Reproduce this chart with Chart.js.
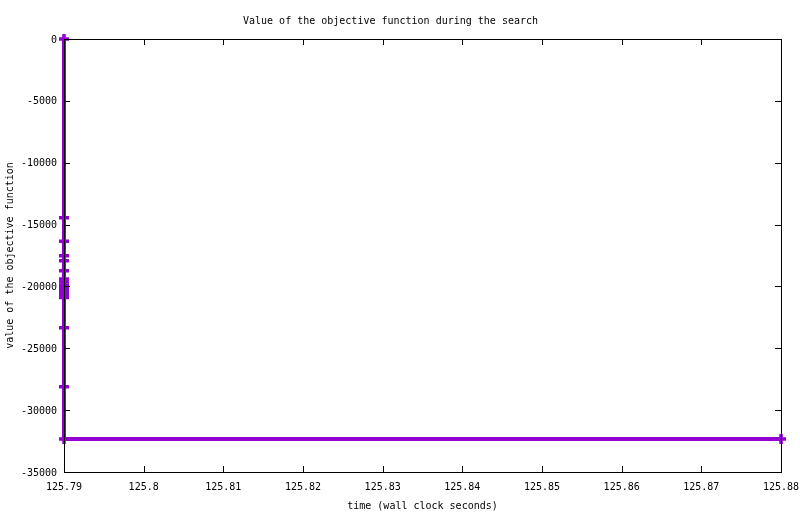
<!DOCTYPE html>
<html>
<head>
<meta charset="utf-8">
<script src="https://cdn.jsdelivr.net/npm/chart.js@4/dist/chart.umd.min.js"></script>
<style>
  html, body { margin: 0; padding: 0; background: #fff; }
  #wrap { width: 800px; height: 514px; }
</style>
</head>
<body>
<div id="wrap"><canvas id="chart"></canvas></div>
<script>
// values
const timeValues = [125.79, 125.79, 125.79, 125.79, 125.79, 125.79, 125.79, 125.79, 125.79,
                    125.79, 125.79, 125.79, 125.79, 125.79, 125.79, 125.79, 125.88];
const objectiveValues = [0, -14450, -16350, -17520, -17920, -18730, -19400, -19650, -19900,
                         -20150, -20400, -20650, -20900, -23340, -28110, -32330, -32330];

const xTicks = [125.79, 125.8, 125.81, 125.82, 125.83, 125.84, 125.85, 125.86, 125.87, 125.88];
const yTicks = [0, -5000, -10000, -15000, -20000, -25000, -30000, -35000];

const font = { family: "'DejaVu Sans Mono', monospace", size: 10, weight: 'normal' };
const points = timeValues.map((t, i) => ({ x: t, y: objectiveValues[i] }));

// gnuplot style frame: ticks pointing inward on all four sides
const frame = {
    id: 'frame',
    afterDraw(chart) {
        const ctx = chart.ctx;
        const a = chart.chartArea;
        const x = chart.scales.x, y = chart.scales.y;
        ctx.save();
        ctx.strokeStyle = '#000';
        ctx.lineWidth = 1;
        ctx.beginPath();
        xTicks.forEach(v => {
            const px = Math.round(x.getPixelForValue(v)) + 0.5;
            ctx.moveTo(px, a.bottom); ctx.lineTo(px, a.bottom - 6);
            ctx.moveTo(px, a.top); ctx.lineTo(px, a.top + 6);
        });
        yTicks.forEach(v => {
            const py = Math.round(y.getPixelForValue(v)) + 0.5;
            ctx.moveTo(a.left, py); ctx.lineTo(a.left + 6, py);
            ctx.moveTo(a.right, py); ctx.lineTo(a.right - 6, py);
        });
        ctx.stroke();
        ctx.strokeRect(Math.round(a.left) + 0.5, Math.round(a.top) + 0.5,
                       Math.round(a.right - a.left), Math.round(a.bottom - a.top));
        ctx.restore();
    }
};

new Chart(document.getElementById('chart'), {
    type: 'scatter',
    data: {
        datasets: [{
            data: points,
            showLine: true,
            borderColor: '#9400d3',
            backgroundColor: '#9400d3',
            borderWidth: 4,
            pointStyle: 'cross',
            pointRadius: 5,
            pointBorderWidth: 3.5,
            pointHoverRadius: 5,
            clip: false
        }]
    },
    options: {
        responsive: true,
        maintainAspectRatio: false,
        animation: false,
        layout: { padding: { left: 0, right: 19, top: 0, bottom: 0 } },
        plugins: {
            legend: { display: false },
            tooltip: { enabled: false },
            title: {
                display: true,
                text: 'Value of the objective function during the search',
                color: '#000',
                font: font,
                padding: { top: 15, bottom: 12 }
            }
        },
        scales: {
            x: {
                type: 'linear',
                min: 125.79,
                max: 125.88,
                afterBuildTicks: s => { s.ticks = xTicks.map(v => ({ value: v })); },
                afterFit: s => { s.height = 42; s.paddingLeft = 0; s.paddingRight = 0; },
                grid: { display: false, drawTicks: false },
                border: { display: false },
                ticks: {
                    color: '#000',
                    font: font,
                    padding: 9,
                    maxRotation: 0,
                    callback: v => String(parseFloat(Number(v).toFixed(2)))
                },
                title: {
                    display: true,
                    text: 'time (wall clock seconds)',
                    color: '#000',
                    font: font,
                    padding: { top: 0, bottom: 2 }
                }
            },
            y: {
                min: -35000,
                max: 0,
                afterBuildTicks: s => { s.ticks = yTicks.map(v => ({ value: v })); },
                afterFit: s => { s.width = 64; s.paddingTop = 0; s.paddingBottom = 0; },
                grid: { display: false, drawTicks: false },
                border: { display: false },
                ticks: {
                    color: '#000',
                    font: font,
                    padding: 7,
                    labelOffset: 1,
                    callback: v => String(v)
                },
                title: {
                    display: true,
                    text: 'value of the objective function',
                    color: '#000',
                    font: font,
                    padding: { top: 4, bottom: 0 }
                }
            }
        }
    },
    plugins: [frame]
});
</script>
</body>
</html>
